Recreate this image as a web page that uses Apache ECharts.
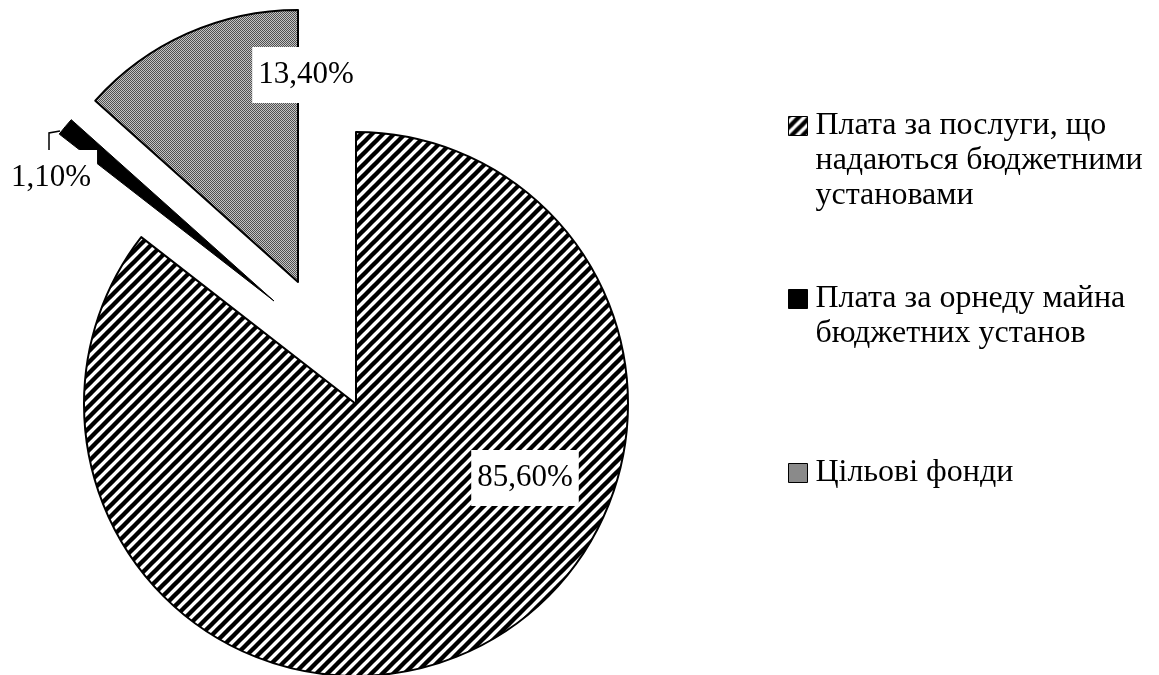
<!DOCTYPE html>
<html><head><meta charset="utf-8">
<script src="https://cdn.jsdelivr.net/npm/echarts@6/dist/echarts.min.js"></script>
<style>html,body{margin:0;padding:0;background:#fff}#c{width:1159px;height:675px}</style>
</head><body><div id="c"></div><script>
// ---- data ----
const categories = [
  'Плата за послуги, що надаються бюджетними установами',
  'Плата за орнеду майна бюджетних установ',
  'Цільові фонди'
];
const legendLines = [
  ['Плата за послуги, що', 'надаються бюджетними', 'установами'],
  ['Плата за орнеду майна', 'бюджетних установ'],
  ['Цільові фонди']
];
const values = [85.6, 1.1, 13.4];

// ---- layout ----
const R = 272;
const centers = [[356, 404], [274, 301], [298, 282]];
const labelPos = [[525, 478], [51, 178], [306, 75]];
const leaderPts = [[60, 131], [49, 133], [49, 150]];
const legendIconCenterY = [126, 299, 473];
const FONT = 'Liberation Serif';
const LH = 35;

function hatchPattern(n, lw) {
  const c = document.createElement('canvas'); c.width = n; c.height = n;
  const g = c.getContext('2d');
  g.fillStyle = '#fff'; g.fillRect(0, 0, n, n);
  g.strokeStyle = '#000'; g.lineWidth = lw;
  for (const k of [0, n, 2 * n]) {
    g.beginPath(); g.moveTo(k - 3 * n, 3 * n); g.lineTo(k + 3 * n, -3 * n); g.stroke();
  }
  return { image: c, repeat: 'repeat' };
}
function checkerPattern() {
  const c = document.createElement('canvas'); c.width = 2; c.height = 2;
  const g = c.getContext('2d');
  g.fillStyle = '#c4c4c4'; g.fillRect(0, 0, 2, 2);
  g.fillStyle = '#505050'; g.fillRect(0, 0, 1, 1); g.fillRect(1, 1, 1, 1);
  return { image: c, repeat: 'repeat' };
}
const fills = [hatchPattern(11, 4.4), '#000', checkerPattern()];
const borders = [2, 1, 2];

function fmt(v) { return v.toFixed(2).replace('.', ',') + '%'; }

function makeSeries(k) {
  return {
    type: 'pie', center: centers[k], radius: [0, R],
    startAngle: 90, clockwise: true, silent: true, animation: false,
    avoidLabelOverlap: false, minShowLabelAngle: 0,
    data: values.map((v, i) => i === k ? {
      name: categories[i], value: v,
      itemStyle: { color: fills[i], borderColor: '#000', borderWidth: borders[i] },
      label: {
        show: true, position: k === 1 ? 'outside' : 'inside',
        formatter: () => fmt(v),
        fontFamily: FONT, fontSize: 31, color: '#000', lineHeight: 36,
        backgroundColor: '#fff',
        padding: [10, 6]
      },
      labelLine: { show: k === 1, lineStyle: { color: '#000', width: 1.5 } }
    } : {
      name: '_h' + k + '_' + i, value: v,
      itemStyle: { color: 'transparent', borderWidth: 0 },
      label: { show: false }, labelLine: { show: false }
    }),
    labelLayout: p => {
      if (p.dataIndex !== k) return {};
      const o = { x: labelPos[k][0], y: labelPos[k][1], align: 'center', verticalAlign: 'middle' };
      if (k === 1) o.labelLinePoints = leaderPts;
      return o;
    }
  };
}

// legend: the text block is centred on the icon, so pad with empty lines
// above so that the first text line sits level with the icon
const legends = legendLines.map((lines, i) => {
  const n = lines.length;
  const padded = Array(n - 1).fill('').concat(lines);
  return {
    orient: 'vertical', left: 788,
    top: legendIconCenterY[i] - (2 * n - 1) * LH / 2,
    padding: 0, selectedMode: false,
    icon: 'rect', itemWidth: 19, itemHeight: 19,
    data: [categories[i]],
    formatter: () => padded.join('\n'),
    itemStyle: { color: fills[i], borderColor: '#000', borderWidth: 1 },
    textStyle: { fontFamily: FONT, fontSize: 32, color: '#000', lineHeight: LH, padding: [0, 0, 0, 3] }
  };
});

const chart = echarts.init(document.getElementById('c'), null, { renderer: 'canvas' });
chart.setOption({
  backgroundColor: '#fff',
  animation: false,
  legend: legends,
  series: [makeSeries(0), makeSeries(2), makeSeries(1)]
});
</script></body></html>
